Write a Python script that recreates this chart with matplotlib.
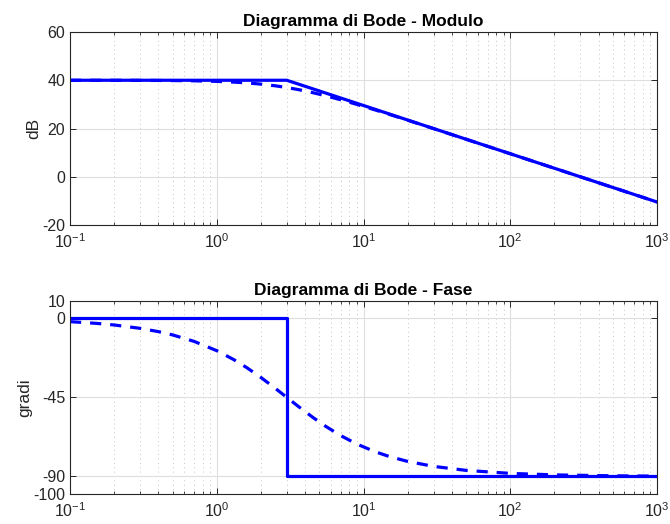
import matplotlib
matplotlib.use("Agg")
import matplotlib.pyplot as plt
from matplotlib.ticker import LogLocator, NullFormatter

plt.rcParams['font.family'] = ['Liberation Sans', 'DejaVu Sans']
plt.rcParams['axes.unicode_minus'] = False

# Asymptotic (solid) curves
w_asym_mag = [0.1, 3, 1000]
mag_asym = [40, 40, -10.46]
w_asym_ph = [0.1, 3, 3, 1000]
ph_asym = [0, 0, -90, -90]

# Real (dashed) curves
w_real = [0.1, 0.15, 0.2, 0.3, 0.4, 0.5, 0.7, 1, 1.3, 1.6, 2, 2.5, 3, 3.6,
          4.5, 5.5, 7, 9, 12, 15, 20, 30, 50, 100, 200, 500, 1000]
mag_real = [39.995, 39.99, 39.98, 39.96, 39.92, 39.88, 39.77, 39.54, 39.25,
            38.91, 38.40, 37.71, 36.99, 36.13, 34.88, 33.60, 31.91, 30.00,
            27.70, 25.85, 23.43, 19.96, 15.55, 9.54, 3.52, -4.44, -10.46]
ph_real = [-1.91, -2.86, -3.81, -5.71, -7.59, -9.46, -13.13, -18.43, -23.43,
           -28.07, -33.69, -39.81, -45.0, -50.19, -56.31, -61.39, -66.80,
           -71.57, -75.96, -78.69, -81.47, -84.29, -86.57, -88.28, -89.14,
           -89.66, -89.83]

mag_ticks = [-20, 0, 20, 40, 60]
ph_ticks = [-100, -90, -45, 0, 10]

fig = plt.figure(figsize=(6.7, 5.24), dpi=100)
ax1 = fig.add_axes([0.1045, 0.5706, 0.8761, 0.3683])
ax2 = fig.add_axes([0.1045, 0.0573, 0.8761, 0.3688])

axc = '#262626'
for ax in (ax1, ax2):
    ax.set_xscale('log')
    ax.set_xlim(0.1, 1000)
    ax.xaxis.set_major_locator(LogLocator(base=10, numticks=10))
    ax.xaxis.set_minor_locator(LogLocator(base=10, subs=range(2, 10), numticks=20))
    ax.xaxis.set_minor_formatter(NullFormatter())
    ax.grid(True, which='major', color='#dedede', linewidth=0.8, linestyle='-')
    ax.grid(True, which='minor', axis='x', color='#c4c4c4', linewidth=0.7,
            linestyle=(0, (1, 3.5)))
    ax.tick_params(which='both', direction='in', top=True, right=True,
                   colors=axc, labelcolor=axc, labelsize=11.5)
    ax.tick_params(which='major', length=4, width=0.7)
    ax.tick_params(which='minor', length=2.5, width=0.6)
    ax.tick_params(axis='x', pad=5)
    for s in ax.spines.values():
        s.set_color(axc)
        s.set_linewidth(0.8)
    ax.set_axisbelow(True)

dash = (0, (3.5, 2.8))
ax1.plot(w_asym_mag, mag_asym, color='#0000ff', linewidth=2.3)
ax1.plot(w_real, mag_real, color='#0000ff', linewidth=2.3, linestyle=dash)
ax1.set_ylim(-20, 60)
ax1.set_yticks(mag_ticks)
ax1.set_ylabel('dB', fontsize=12.5, color=axc, labelpad=1)
ax1.set_title('Diagramma di Bode - Modulo', fontsize=12.5, fontweight='bold', pad=4)

ax2.plot(w_asym_ph, ph_asym, color='#0000ff', linewidth=2.3)
ax2.plot(w_real, ph_real, color='#0000ff', linewidth=2.3, linestyle=dash)
ax2.set_ylim(-100, 10)
ax2.set_yticks(ph_ticks)
ax2.set_ylabel('gradi', fontsize=12.5, color=axc, labelpad=1)
ax2.set_title('Diagramma di Bode - Fase', fontsize=12.5, fontweight='bold', pad=4)

fig.savefig('out.png', dpi=100, facecolor='white')
